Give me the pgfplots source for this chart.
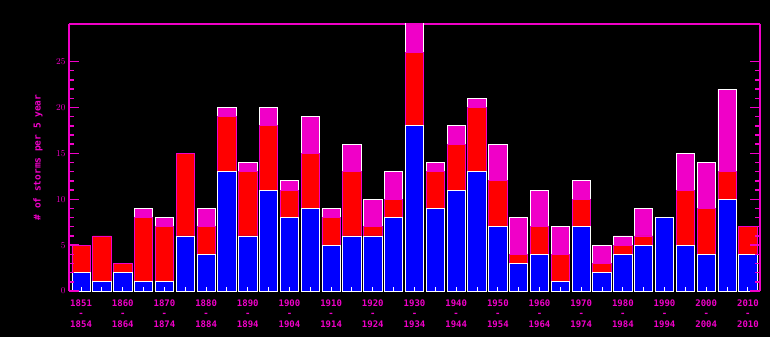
\documentclass[border=0pt]{standalone}
\usepackage{pgfplots}
\usepackage{pgfplotstable}
\pgfplotsset{compat=1.18}
\usepackage{fontspec}
\setmainfont{DejaVu Sans Mono}
\definecolor{mag}{RGB}{240,0,200}
\definecolor{myblue}{RGB}{0,0,255}
\definecolor{myred}{RGB}{255,0,0}

\pgfplotstableread{
x b r m
0 2 3 0
1 1 5 0
2 2 1 0
3 1 7 1
4 1 6 1
5 6 9 0
6 4 3 2
7 13 6 1
8 6 7 1
9 11 7 2
10 8 3 1
11 9 6 4
12 5 3 1
13 6 7 3
14 6 1 3
15 8 2 3
16 18 8 5
17 9 4 1
18 11 5 2
19 13 7 1
20 7 5 4
21 3 1 4
22 4 3 4
23 1 3 3
24 7 3 2
25 2 1 2
26 4 1 1
27 5 1 3
28 8 0 0
29 5 6 4
30 4 5 5
31 10 3 9
32 4 3 0
}\data

\begin{document}
\begin{tikzpicture}
\fill[black] (-69pt,-46pt) rectangle (701pt,291pt);
\begin{axis}[
  at={(0pt,0pt)}, anchor=south west,
  scale only axis, width=691pt, height=267pt,
  xmin=-0.58, xmax=32.58, ymin=0, ymax=29.1,
  ybar stacked, bar width=0.88,
  axis on top,
  separate axis lines,
  x axis line style={draw=none},
  y axis line style={draw=mag, line width=1.4pt},
  ytick={0,5,...,25}, minor y tick num=4,
  yticklabel pos=left,
  ytick style={mag, line width=1.4pt},
  tick align=inside,
  major tick length=10pt, minor tick length=5pt,
  xtick={0,...,32}, xtick pos=bottom,
  xticklabels={1851\\-\\1854,{},1860\\-\\1864,{},1870\\-\\1874,{},1880\\-\\1884,{},1890\\-\\1894,{},1900\\-\\1904,{},1910\\-\\1914,{},1920\\-\\1924,{},1930\\-\\1934,{},1940\\-\\1944,{},1950\\-\\1954,{},1960\\-\\1964,{},1970\\-\\1974,{},1980\\-\\1984,{},1990\\-\\1994,{},2000\\-\\2004,{},2010\\-\\2010},
  xtick style={white, line width=1pt, /pgfplots/major tick length=4pt},
  xticklabel style={align=center, font=\bfseries\fontsize{9}{10.5}\selectfont, text=mag, yshift=-5pt},
  yticklabel style={font=\bfseries\fontsize{9}{10}\selectfont, text=mag},
  ylabel={\# of storms per 5 year},
  ylabel style={at={(axis description cs:-0.045,0.5)}, anchor=center, font=\bfseries\fontsize{9.5}{10}\selectfont, text=mag},
]
\addplot[fill=myblue, draw=white, line width=0.8pt] table[x=x,y=b]{\data};
\addplot[fill=myred, draw=mag, line width=0.8pt] table[x=x,y=r]{\data};
\addplot[fill=mag, draw=white, line width=0.8pt] table[x=x,y=m]{\data};
\draw[mag, line width=1.4pt] (rel axis cs:0,1) -- (rel axis cs:1,1);
\end{axis}
\end{tikzpicture}
\end{document}
